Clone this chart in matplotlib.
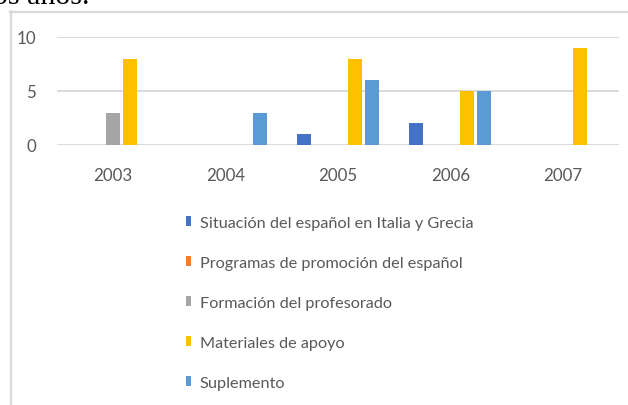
import matplotlib
matplotlib.use("Agg")
import matplotlib.pyplot as plt
import numpy as np
from matplotlib.patches import Rectangle
from matplotlib.lines import Line2D

years = ["2003", "2004", "2005", "2006", "2007"]
series_names = [
    "Situación del español en Italia y Grecia",
    "Programas de promoción del español",
    "Formación del profesorado",
    "Materiales de apoyo",
    "Suplemento",
]
situacion = [0, 0, 1, 2, 0]
programas = [0, 0, 0, 0, 0]
formacion = [3, 0, 0, 0, 0]
materiales = [8, 0, 8, 5, 9]
suplemento = [0, 3, 6, 5, 0]
yticks = [0, 5, 10]

colors = ["#4472C4", "#ED7D31", "#A5A5A5", "#FFC000", "#5B9BD5"]
values = [situacion, programas, formacion, materiales, suplemento]

W, H = 628, 406
fig = plt.figure(figsize=(W / 100, H / 100), dpi=100)
FONT = ["Lato", "DejaVu Sans"]
txt_color = "#595959"

def fx(px):
    return px / W

def fy(py):
    return 1 - py / H

ax = fig.add_axes([fx(57), fy(146), fx(619) - fx(57), fy(38) - fy(146)])
x = np.arange(len(years))
slot = 0.151
bw = 0.125
for i, (vals, c) in enumerate(zip(values, colors)):
    ax.bar(x + (i - 2) * slot, vals, width=bw, color=c, linewidth=0, zorder=3)

ax.set_xlim(-0.5, len(years) - 0.5)
ax.set_ylim(0, 10)
ax.set_yticks(yticks)
ax.set_yticklabels([str(v) for v in yticks], fontfamily=FONT, fontsize=12.2, color=txt_color)
ax.set_xticks(x)
ax.set_xticklabels(years, fontfamily=FONT, fontsize=12.2, color=txt_color)
ax.tick_params(axis="both", length=0)
ax.tick_params(axis="y", pad=15)
ax.tick_params(axis="x", pad=16)
for s in ax.spines.values():
    s.set_visible(False)
ax.yaxis.grid(True, color="#d9d9d9", linewidth=1.4, zorder=0)
ax.set_axisbelow(True)
ax.patch.set_alpha(0)

handles = [Rectangle((0, 0), 1, 1, facecolor=c, edgecolor="none") for c in colors]
leg = fig.legend(handles, series_names, loc="upper left",
                 bbox_to_anchor=(fx(186), fy(217)), frameon=False,
                 prop={"family": FONT, "size": 11.7}, labelcolor=txt_color,
                 handlelength=0.3, handleheight=0.6, handletextpad=0.55,
                 labelspacing=1.6, borderpad=0, borderaxespad=0)

# frame of the embedded chart
fig.add_artist(Line2D([fx(10.5), fx(10.5)], [fy(12), 0], color="#d9d9d9", linewidth=1.6))
fig.add_artist(Line2D([fx(10), 1], [fy(12.5), fy(12.5)], color="#d9d9d9", linewidth=1.6))

# cropped document text above the chart
fig.text(fx(-7), fy(3.5), "os años.", fontfamily=["Liberation Serif", "DejaVu Serif"],
         fontsize=21.5, color="black", ha="left", va="baseline")

fig.savefig("out.png", dpi=100)
